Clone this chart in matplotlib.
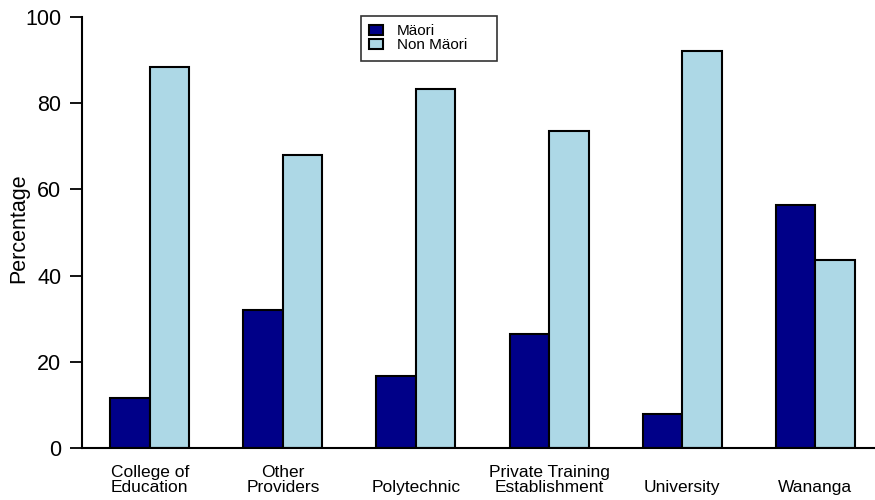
import matplotlib
matplotlib.use("Agg")
import matplotlib.pyplot as plt
import numpy as np

categories = ["College of\nEducation", "Other\nProviders", "Polytechnic",
              "Private Training\nEstablishment", "University", "Wananga"]
maori = [11.5, 32.0, 16.7, 26.4, 7.9, 56.4]
non_maori = [88.4, 68.0, 83.3, 73.6, 92.1, 43.6]
series_names = ["Mäori", "Non Mäori"]
yticks = [0, 20, 40, 60, 80, 100]

plt.rcParams['font.family'] = ['Liberation Sans', 'DejaVu Sans']

fig = plt.figure(figsize=(8.75, 5), dpi=100)
ax = fig.add_axes([82/875, 1-448/500, 1-82/875, (448-17)/500])

x = np.arange(len(categories))
w = 0.297
ax.bar(x - w/2, maori, width=w, color="#000088", edgecolor="black", linewidth=1.5, label=series_names[0])
ax.bar(x + w/2, non_maori, width=w, color="#add8e6", edgecolor="black", linewidth=1.5, label=series_names[1])

ax.set_xlim(-0.51, 5.45)
ax.set_ylim(0, 100)
ax.set_yticks(yticks)
ax.tick_params(axis='y', direction='out', length=9, width=1.3, labelsize=15.5, pad=6)
ax.set_xticks(x)
ax.set_xticklabels(categories, fontsize=12.5, linespacing=1.05)
for t in ax.get_xticklabels():
    t.set_verticalalignment('bottom')
ax.tick_params(axis='x', length=0, pad=34)

for s in ['top', 'right']:
    ax.spines[s].set_visible(False)
ax.spines['left'].set_linewidth(1.5)
ax.spines['bottom'].set_linewidth(1.5)

ax.set_ylabel("Percentage", fontsize=15.5)
ax.yaxis.set_label_coords(-(82-19)/793, (448-228)/431)
ax.yaxis.label.set_verticalalignment('center')

leg = ax.legend(loc='upper left', bbox_to_anchor=(361/875, 1-58/500, 136/875, 42/500),
                bbox_transform=fig.transFigure, mode='expand',
                fontsize=11, frameon=True, fancybox=False, edgecolor='black',
                handlelength=0.9, handleheight=0.7, handletextpad=0.9, borderpad=0.55,
                labelspacing=0.0, borderaxespad=0)
leg.get_frame().set_linewidth(1.2)

fig.savefig("out.png", dpi=100)
